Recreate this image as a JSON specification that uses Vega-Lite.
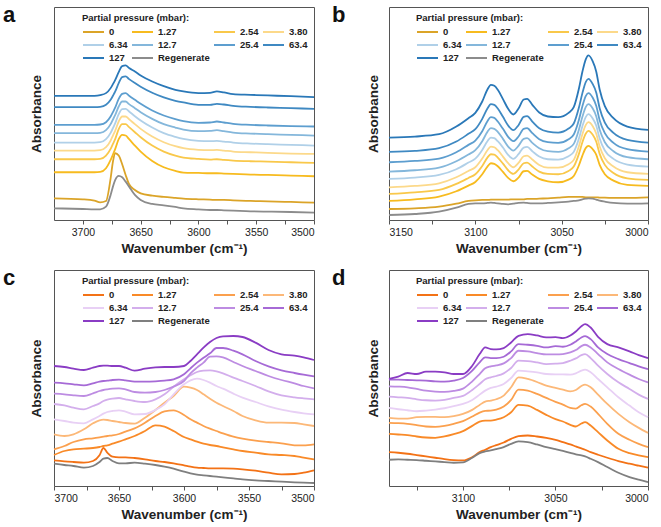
{
"$schema":"https://vega.github.io/schema/vega-lite/v6.json",
"padding":{"left":2,"top":3,"right":0,"bottom":2},
"config":{
 "font":"Liberation Sans",
 "view":{"stroke":"#555","strokeWidth":1},
 "axis":{"grid":false,"domain":false,"tickColor":"#555","tickSize":4,"labelFontSize":10.5,"labelColor":"#222","labelPadding":3,"titleFontSize":13.5,"titleFontWeight":"bold","titleColor":"#222","titlePadding":4},
 "axisY":{"labels":false,"ticks":false,"titlePadding":11},
 "legend":{"orient":"top-right","offset":6,"direction":"horizontal","columns":4,"gridAlign":"none","symbolType":"stroke","symbolSize":441,"symbolStrokeWidth":2,"clipHeight":11,"labelFontSize":9.5,"labelFontWeight":"bold","labelColor":"#222","labelOffset":4,"columnPadding":3,"rowPadding":2,"titleFontSize":9.5,"titleFontWeight":"bold","titleColor":"#222","titlePadding":4},
 "title":{"anchor":"start","frame":"bounds","fontSize":22,"fontWeight":"bold","color":"#111","offset":-20}
},
"datasets":{
"a":[
{"wn":3725,"0":65,"1_27":143,"2_54":182,"3_80":208,"6_34":232,"12_7":260,"25_4":285,"63_4":338,"127":372,"Regenerate":35},
{"wn":3700,"0":62,"1_27":143,"2_54":182,"3_80":208,"6_34":232,"12_7":260,"25_4":285,"63_4":338,"127":372,"Regenerate":33},
{"wn":3690,"0":58,"1_27":143,"2_54":182,"3_80":208,"6_34":232,"12_7":260,"25_4":285,"63_4":338,"127":372,"Regenerate":32},
{"wn":3685,"0":53,"1_27":144,"2_54":183,"3_80":209,"6_34":233,"12_7":261,"25_4":286,"63_4":339,"127":374,"Regenerate":32},
{"wn":3680,"0":57,"1_27":155,"2_54":193,"3_80":218,"6_34":242,"12_7":269,"25_4":293,"63_4":345,"127":380,"Regenerate":40},
{"wn":3676,"0":125,"1_27":180,"2_54":213,"3_80":238,"6_34":261,"12_7":287,"25_4":310,"63_4":360,"127":395,"Regenerate":75},
{"wn":3674,"0":175,"1_27":196,"2_54":228,"3_80":253,"6_34":275,"12_7":301,"25_4":323,"63_4":372,"127":407,"Regenerate":100},
{"wn":3672,"0":200,"1_27":213,"2_54":243,"3_80":268,"6_34":290,"12_7":315,"25_4":337,"63_4":385,"127":420,"Regenerate":120},
{"wn":3669,"0":193,"1_27":242,"2_54":272,"3_80":295,"6_34":317,"12_7":340,"25_4":363,"63_4":410,"127":443,"Regenerate":132},
{"wn":3666,"0":167,"1_27":255,"2_54":287,"3_80":310,"6_34":332,"12_7":355,"25_4":378,"63_4":428,"127":461,"Regenerate":128},
{"wn":3663,"0":135,"1_27":253,"2_54":287,"3_80":310,"6_34":333,"12_7":355,"25_4":380,"63_4":430,"127":463,"Regenerate":115},
{"wn":3660,"0":107,"1_27":242,"2_54":278,"3_80":302,"6_34":325,"12_7":347,"25_4":372,"63_4":422,"127":455,"Regenerate":100},
{"wn":3655,"0":90,"1_27":223,"2_54":263,"3_80":287,"6_34":311,"12_7":335,"25_4":360,"63_4":410,"127":445,"Regenerate":75},
{"wn":3650,"0":80,"1_27":205,"2_54":248,"3_80":273,"6_34":298,"12_7":323,"25_4":348,"63_4":399,"127":433,"Regenerate":60},
{"wn":3640,"0":73,"1_27":177,"2_54":223,"3_80":250,"6_34":277,"12_7":303,"25_4":328,"63_4":381,"127":415,"Regenerate":48},
{"wn":3630,"0":69,"1_27":158,"2_54":205,"3_80":233,"6_34":260,"12_7":287,"25_4":313,"63_4":367,"127":401,"Regenerate":44},
{"wn":3620,"0":66,"1_27":147,"2_54":193,"3_80":221,"6_34":249,"12_7":277,"25_4":302,"63_4":357,"127":390,"Regenerate":39},
{"wn":3613,"0":64,"1_27":142,"2_54":187,"3_80":215,"6_34":243,"12_7":271,"25_4":296,"63_4":352,"127":385,"Regenerate":35},
{"wn":3600,"0":62,"1_27":141,"2_54":183,"3_80":210,"6_34":237,"12_7":266,"25_4":291,"63_4":345,"127":380,"Regenerate":32},
{"wn":3590,"0":61,"1_27":140,"2_54":181,"3_80":209,"6_34":236,"12_7":267,"25_4":292,"63_4":345,"127":381,"Regenerate":30},
{"wn":3584,"0":60,"1_27":140,"2_54":182,"3_80":210,"6_34":237,"12_7":269,"25_4":295,"63_4":348,"127":385,"Regenerate":30},
{"wn":3578,"0":60,"1_27":139,"2_54":180,"3_80":208,"6_34":235,"12_7":266,"25_4":292,"63_4":346,"127":382,"Regenerate":29},
{"wn":3570,"0":59,"1_27":138,"2_54":178,"3_80":205,"6_34":232,"12_7":262,"25_4":288,"63_4":342,"127":377,"Regenerate":28},
{"wn":3555,"0":57,"1_27":136,"2_54":176,"3_80":203,"6_34":229,"12_7":259,"25_4":285,"63_4":339,"127":375,"Regenerate":26},
{"wn":3540,"0":56,"1_27":135,"2_54":175,"3_80":201,"6_34":227,"12_7":257,"25_4":283,"63_4":337,"127":373,"Regenerate":25},
{"wn":3520,"0":54,"1_27":133,"2_54":173,"3_80":199,"6_34":225,"12_7":255,"25_4":281,"63_4":335,"127":371,"Regenerate":24},
{"wn":3500,"0":52,"1_27":131,"2_54":171,"3_80":198,"6_34":223,"12_7":253,"25_4":280,"63_4":333,"127":368,"Regenerate":22}
],
"b":[
{"wn":3150,"0":33,"1_27":57,"2_54":78,"3_80":98,"6_34":123,"12_7":145,"25_4":173,"63_4":204,"127":247,"Regenerate":15},
{"wn":3135,"0":35,"1_27":62,"2_54":83,"3_80":102,"6_34":127,"12_7":149,"25_4":177,"63_4":207,"127":250,"Regenerate":18},
{"wn":3121,"0":40,"1_27":70,"2_54":90,"3_80":110,"6_34":135,"12_7":157,"25_4":184,"63_4":215,"127":257,"Regenerate":25},
{"wn":3111,"0":49,"1_27":86,"2_54":108,"3_80":128,"6_34":152,"12_7":176,"25_4":203,"63_4":235,"127":280,"Regenerate":37},
{"wn":3104,"0":57,"1_27":103,"2_54":126,"3_80":147,"6_34":172,"12_7":196,"25_4":225,"63_4":258,"127":305,"Regenerate":48},
{"wn":3100,"0":59,"1_27":114,"2_54":137,"3_80":158,"6_34":184,"12_7":209,"25_4":238,"63_4":272,"127":321,"Regenerate":50},
{"wn":3096,"0":60,"1_27":137,"2_54":162,"3_80":184,"6_34":210,"12_7":236,"25_4":266,"63_4":303,"127":355,"Regenerate":50},
{"wn":3093,"0":60,"1_27":160,"2_54":187,"3_80":209,"6_34":236,"12_7":264,"25_4":296,"63_4":334,"127":391,"Regenerate":51},
{"wn":3091,"0":61,"1_27":170,"2_54":197,"3_80":220,"6_34":247,"12_7":275,"25_4":308,"63_4":347,"127":405,"Regenerate":52},
{"wn":3089,"0":61,"1_27":168,"2_54":196,"3_80":218,"6_34":245,"12_7":273,"25_4":306,"63_4":345,"127":402,"Regenerate":51},
{"wn":3087,"0":61,"1_27":161,"2_54":187,"3_80":209,"6_34":236,"12_7":264,"25_4":295,"63_4":334,"127":390,"Regenerate":50},
{"wn":3084,"0":61,"1_27":144,"2_54":169,"3_80":190,"6_34":217,"12_7":243,"25_4":273,"63_4":309,"127":362,"Regenerate":48},
{"wn":3081,"0":61,"1_27":126,"2_54":149,"3_80":170,"6_34":195,"12_7":220,"25_4":249,"63_4":283,"127":333,"Regenerate":47},
{"wn":3078,"0":62,"1_27":116,"2_54":138,"3_80":158,"6_34":183,"12_7":208,"25_4":236,"63_4":269,"127":316,"Regenerate":49},
{"wn":3075,"0":62,"1_27":127,"2_54":151,"3_80":171,"6_34":197,"12_7":222,"25_4":250,"63_4":284,"127":334,"Regenerate":51},
{"wn":3072,"0":62,"1_27":146,"2_54":170,"3_80":191,"6_34":217,"12_7":243,"25_4":273,"63_4":309,"127":361,"Regenerate":52},
{"wn":3070,"0":63,"1_27":147,"2_54":172,"3_80":193,"6_34":219,"12_7":245,"25_4":275,"63_4":311,"127":363,"Regenerate":51},
{"wn":3067,"0":63,"1_27":136,"2_54":160,"3_80":181,"6_34":206,"12_7":231,"25_4":260,"63_4":295,"127":345,"Regenerate":50},
{"wn":3063,"0":64,"1_27":123,"2_54":145,"3_80":165,"6_34":190,"12_7":215,"25_4":242,"63_4":275,"127":322,"Regenerate":50},
{"wn":3058,"0":65,"1_27":116,"2_54":138,"3_80":157,"6_34":182,"12_7":206,"25_4":233,"63_4":265,"127":310,"Regenerate":51},
{"wn":3052,"0":67,"1_27":113,"2_54":137,"3_80":157,"6_34":181,"12_7":204,"25_4":231,"63_4":262,"127":308,"Regenerate":53},
{"wn":3046,"0":69,"1_27":121,"2_54":147,"3_80":167,"6_34":191,"12_7":215,"25_4":242,"63_4":274,"127":321,"Regenerate":55},
{"wn":3043,"0":69,"1_27":132,"2_54":160,"3_80":180,"6_34":204,"12_7":228,"25_4":256,"63_4":289,"127":338,"Regenerate":57},
{"wn":3040,"0":69,"1_27":164,"2_54":198,"3_80":221,"6_34":244,"12_7":271,"25_4":300,"63_4":337,"127":394,"Regenerate":59},
{"wn":3038,"0":69,"1_27":193,"2_54":233,"3_80":257,"6_34":281,"12_7":309,"25_4":341,"63_4":380,"127":444,"Regenerate":62},
{"wn":3036,"0":68,"1_27":216,"2_54":259,"3_80":285,"6_34":309,"12_7":339,"25_4":372,"63_4":414,"127":482,"Regenerate":64},
{"wn":3034.5,"0":68,"1_27":222,"2_54":267,"3_80":293,"6_34":317,"12_7":347,"25_4":380,"63_4":423,"127":493,"Regenerate":65},
{"wn":3032,"0":68,"1_27":212,"2_54":255,"3_80":281,"6_34":304,"12_7":334,"25_4":366,"63_4":407,"127":475,"Regenerate":64},
{"wn":3030,"0":68,"1_27":196,"2_54":235,"3_80":259,"6_34":283,"12_7":311,"25_4":342,"63_4":382,"127":445,"Regenerate":61},
{"wn":3028,"0":67,"1_27":165,"2_54":198,"3_80":220,"6_34":244,"12_7":270,"25_4":299,"63_4":335,"127":391,"Regenerate":58},
{"wn":3025,"0":67,"1_27":137,"2_54":165,"3_80":185,"6_34":208,"12_7":233,"25_4":260,"63_4":292,"127":341,"Regenerate":55},
{"wn":3020,"0":66,"1_27":118,"2_54":141,"3_80":160,"6_34":183,"12_7":206,"25_4":231,"63_4":261,"127":305,"Regenerate":51},
{"wn":3012,"0":66,"1_27":105,"2_54":125,"3_80":143,"6_34":166,"12_7":188,"25_4":212,"63_4":240,"127":280,"Regenerate":49},
{"wn":3000,"0":68,"1_27":102,"2_54":120,"3_80":138,"6_34":160,"12_7":182,"25_4":205,"63_4":232,"127":270,"Regenerate":50}
],
"c":[
{"wn":3700,"0":77,"1_27":93,"2_54":110,"3_80":155,"6_34":200,"12_7":246,"25_4":277,"63_4":310,"127":360,"Regenerate":67},
{"wn":3692,"0":74,"1_27":105,"2_54":120,"3_80":150,"6_34":195,"12_7":242,"25_4":275,"63_4":308,"127":357,"Regenerate":63},
{"wn":3685,"0":72,"1_27":110,"2_54":132,"3_80":155,"6_34":190,"12_7":235,"25_4":272,"63_4":305,"127":352,"Regenerate":60},
{"wn":3677,"0":70,"1_27":112,"2_54":140,"3_80":170,"6_34":188,"12_7":230,"25_4":270,"63_4":302,"127":348,"Regenerate":55},
{"wn":3670,"0":75,"1_27":114,"2_54":143,"3_80":188,"6_34":200,"12_7":240,"25_4":278,"63_4":308,"127":355,"Regenerate":60},
{"wn":3665,"0":92,"1_27":117,"2_54":146,"3_80":197,"6_34":210,"12_7":248,"25_4":285,"63_4":313,"127":360,"Regenerate":72},
{"wn":3662,"0":114,"1_27":120,"2_54":148,"3_80":199,"6_34":217,"12_7":255,"25_4":288,"63_4":315,"127":361,"Regenerate":82},
{"wn":3659,"0":100,"1_27":122,"2_54":150,"3_80":198,"6_34":222,"12_7":259,"25_4":290,"63_4":316,"127":361,"Regenerate":84},
{"wn":3655,"0":88,"1_27":127,"2_54":152,"3_80":195,"6_34":225,"12_7":262,"25_4":292,"63_4":318,"127":360,"Regenerate":75},
{"wn":3650,"0":86,"1_27":133,"2_54":156,"3_80":192,"6_34":227,"12_7":264,"25_4":293,"63_4":319,"127":360,"Regenerate":68},
{"wn":3645,"0":86,"1_27":140,"2_54":163,"3_80":189,"6_34":223,"12_7":260,"25_4":290,"63_4":317,"127":355,"Regenerate":68},
{"wn":3638,"0":84,"1_27":150,"2_54":173,"3_80":187,"6_34":215,"12_7":255,"25_4":282,"63_4":313,"127":346,"Regenerate":70},
{"wn":3630,"0":80,"1_27":165,"2_54":190,"3_80":205,"6_34":216,"12_7":252,"25_4":280,"63_4":313,"127":352,"Regenerate":67},
{"wn":3622,"0":75,"1_27":182,"2_54":210,"3_80":228,"6_34":228,"12_7":260,"25_4":282,"63_4":314,"127":356,"Regenerate":63},
{"wn":3615,"0":72,"1_27":178,"2_54":224,"3_80":250,"6_34":245,"12_7":275,"25_4":288,"63_4":316,"127":357,"Regenerate":58},
{"wn":3608,"0":68,"1_27":165,"2_54":227,"3_80":270,"6_34":275,"12_7":298,"25_4":298,"63_4":320,"127":357,"Regenerate":52},
{"wn":3600,"0":62,"1_27":147,"2_54":213,"3_80":298,"6_34":305,"12_7":320,"25_4":315,"63_4":335,"127":360,"Regenerate":43},
{"wn":3595,"0":58,"1_27":140,"2_54":200,"3_80":295,"6_34":317,"12_7":332,"25_4":338,"63_4":353,"127":375,"Regenerate":38},
{"wn":3590,"0":55,"1_27":133,"2_54":190,"3_80":288,"6_34":322,"12_7":342,"25_4":355,"63_4":370,"127":395,"Regenerate":34},
{"wn":3585,"0":54,"1_27":127,"2_54":180,"3_80":275,"6_34":318,"12_7":346,"25_4":370,"63_4":385,"127":415,"Regenerate":32},
{"wn":3580,"0":53,"1_27":123,"2_54":172,"3_80":262,"6_34":310,"12_7":347,"25_4":388,"63_4":398,"127":432,"Regenerate":30},
{"wn":3575,"0":53,"1_27":120,"2_54":165,"3_80":250,"6_34":300,"12_7":344,"25_4":389,"63_4":414,"127":444,"Regenerate":28},
{"wn":3570,"0":53,"1_27":116,"2_54":158,"3_80":240,"6_34":292,"12_7":338,"25_4":386,"63_4":414,"127":449,"Regenerate":26},
{"wn":3562,"0":52,"1_27":110,"2_54":148,"3_80":225,"6_34":277,"12_7":325,"25_4":372,"63_4":406,"127":450,"Regenerate":23},
{"wn":3555,"0":50,"1_27":105,"2_54":142,"3_80":210,"6_34":265,"12_7":315,"25_4":360,"63_4":395,"127":447,"Regenerate":20},
{"wn":3545,"0":46,"1_27":100,"2_54":136,"3_80":197,"6_34":252,"12_7":300,"25_4":345,"63_4":375,"127":430,"Regenerate":17},
{"wn":3535,"0":40,"1_27":95,"2_54":132,"3_80":190,"6_34":239,"12_7":284,"25_4":330,"63_4":359,"127":408,"Regenerate":15},
{"wn":3525,"0":35,"1_27":93,"2_54":128,"3_80":190,"6_34":229,"12_7":272,"25_4":318,"63_4":347,"127":395,"Regenerate":13},
{"wn":3515,"0":36,"1_27":90,"2_54":122,"3_80":189,"6_34":222,"12_7":266,"25_4":308,"63_4":339,"127":391,"Regenerate":11},
{"wn":3508,"0":40,"1_27":85,"2_54":122,"3_80":185,"6_34":218,"12_7":263,"25_4":300,"63_4":334,"127":386,"Regenerate":10},
{"wn":3500,"0":47,"1_27":80,"2_54":125,"3_80":180,"6_34":215,"12_7":260,"25_4":293,"63_4":329,"127":378,"Regenerate":9}
],
"d":[
{"wn":3140,"0":102,"1_27":157,"2_54":190,"3_80":205,"6_34":235,"12_7":269,"25_4":300,"63_4":320,"127":322,"Regenerate":79},
{"wn":3135,"0":100,"1_27":155,"2_54":189,"3_80":203,"6_34":231,"12_7":267,"25_4":299,"63_4":320,"127":329,"Regenerate":80},
{"wn":3130,"0":97,"1_27":153,"2_54":187,"3_80":203,"6_34":228,"12_7":265,"25_4":297,"63_4":319,"127":340,"Regenerate":79},
{"wn":3125,"0":93,"1_27":149,"2_54":183,"3_80":207,"6_34":225,"12_7":261,"25_4":292,"63_4":318,"127":337,"Regenerate":78},
{"wn":3120,"0":89,"1_27":146,"2_54":179,"3_80":208,"6_34":227,"12_7":258,"25_4":287,"63_4":317,"127":344,"Regenerate":76},
{"wn":3115,"0":85,"1_27":145,"2_54":178,"3_80":208,"6_34":230,"12_7":257,"25_4":284,"63_4":315,"127":344,"Regenerate":74},
{"wn":3110,"0":81,"1_27":149,"2_54":181,"3_80":207,"6_34":234,"12_7":259,"25_4":283,"63_4":314,"127":342,"Regenerate":72},
{"wn":3105,"0":78,"1_27":156,"2_54":187,"3_80":210,"6_34":240,"12_7":265,"25_4":286,"63_4":317,"127":337,"Regenerate":70},
{"wn":3100,"0":77,"1_27":165,"2_54":195,"3_80":217,"6_34":247,"12_7":271,"25_4":293,"63_4":325,"127":337,"Regenerate":71},
{"wn":3095,"0":87,"1_27":181,"2_54":209,"3_80":229,"6_34":259,"12_7":289,"25_4":315,"63_4":347,"127":362,"Regenerate":85},
{"wn":3091,"0":102,"1_27":194,"2_54":221,"3_80":244,"6_34":275,"12_7":307,"25_4":337,"63_4":372,"127":397,"Regenerate":99},
{"wn":3088,"0":109,"1_27":197,"2_54":226,"3_80":254,"6_34":287,"12_7":321,"25_4":354,"63_4":387,"127":417,"Regenerate":104},
{"wn":3085,"0":117,"1_27":197,"2_54":227,"3_80":257,"6_34":295,"12_7":327,"25_4":360,"63_4":385,"127":412,"Regenerate":107},
{"wn":3082,"0":123,"1_27":200,"2_54":230,"3_80":261,"6_34":299,"12_7":331,"25_4":363,"63_4":385,"127":411,"Regenerate":111},
{"wn":3078,"0":131,"1_27":207,"2_54":239,"3_80":272,"6_34":307,"12_7":339,"25_4":369,"63_4":389,"127":415,"Regenerate":117},
{"wn":3074,"0":142,"1_27":222,"2_54":259,"3_80":297,"6_34":325,"12_7":355,"25_4":385,"63_4":405,"127":432,"Regenerate":127},
{"wn":3070,"0":150,"1_27":244,"2_54":290,"3_80":327,"6_34":347,"12_7":377,"25_4":407,"63_4":427,"127":452,"Regenerate":134},
{"wn":3065,"0":152,"1_27":242,"2_54":287,"3_80":322,"6_34":345,"12_7":376,"25_4":405,"63_4":425,"127":457,"Regenerate":132},
{"wn":3060,"0":149,"1_27":229,"2_54":277,"3_80":313,"6_34":342,"12_7":372,"25_4":400,"63_4":422,"127":453,"Regenerate":125},
{"wn":3055,"0":145,"1_27":214,"2_54":265,"3_80":302,"6_34":337,"12_7":367,"25_4":396,"63_4":417,"127":447,"Regenerate":117},
{"wn":3050,"0":139,"1_27":201,"2_54":253,"3_80":295,"6_34":336,"12_7":368,"25_4":396,"63_4":421,"127":448,"Regenerate":111},
{"wn":3046,"0":132,"1_27":194,"2_54":245,"3_80":290,"6_34":336,"12_7":370,"25_4":397,"63_4":419,"127":445,"Regenerate":106},
{"wn":3042,"0":125,"1_27":184,"2_54":235,"3_80":285,"6_34":335,"12_7":377,"25_4":402,"63_4":425,"127":453,"Regenerate":100},
{"wn":3039,"0":119,"1_27":179,"2_54":233,"3_80":289,"6_34":339,"12_7":384,"25_4":409,"63_4":435,"127":465,"Regenerate":95},
{"wn":3036,"0":113,"1_27":188,"2_54":243,"3_80":301,"6_34":347,"12_7":394,"25_4":421,"63_4":447,"127":481,"Regenerate":92},
{"wn":3034,"0":109,"1_27":192,"2_54":247,"3_80":305,"6_34":350,"12_7":397,"25_4":425,"63_4":451,"127":487,"Regenerate":89},
{"wn":3031,"0":102,"1_27":182,"2_54":239,"3_80":297,"6_34":342,"12_7":385,"25_4":417,"63_4":442,"127":477,"Regenerate":82},
{"wn":3027,"0":94,"1_27":162,"2_54":217,"3_80":275,"6_34":322,"12_7":362,"25_4":397,"63_4":417,"127":449,"Regenerate":72},
{"wn":3022,"0":85,"1_27":137,"2_54":187,"3_80":247,"6_34":297,"12_7":337,"25_4":372,"63_4":397,"127":427,"Regenerate":57},
{"wn":3016,"0":75,"1_27":112,"2_54":157,"3_80":217,"6_34":267,"12_7":312,"25_4":352,"63_4":382,"127":417,"Regenerate":40},
{"wn":3010,"0":67,"1_27":99,"2_54":139,"3_80":192,"6_34":242,"12_7":292,"25_4":335,"63_4":370,"127":405,"Regenerate":27},
{"wn":3005,"0":61,"1_27":92,"2_54":127,"3_80":175,"6_34":222,"12_7":275,"25_4":322,"63_4":360,"127":394,"Regenerate":19},
{"wn":3000,"0":55,"1_27":87,"2_54":117,"3_80":160,"6_34":207,"12_7":262,"25_4":312,"63_4":352,"127":385,"Regenerate":12}
]
},
"resolve":{"scale":{"color":"independent"},"legend":{"color":"independent"}},
"spacing":10,
"vconcat":[
{"hconcat":[
 {"title":{"text":"a","dx":-26},"width":260,"height":213,"data":{"name":"a"},
  "transform":[{"fold":["0","1_27","2_54","3_80","6_34","12_7","25_4","63_4","127","Regenerate"],"as":["p","A"]}],
  "mark":{"type":"line","strokeWidth":1.8,"interpolate":"monotone"},
  "encoding":{
   "x":{"field":"wn","type":"quantitative","scale":{"domain":[3500,3725],"reverse":true,"nice":false,"zero":false},"axis":{"values":[3700,3675,3650,3625,3600,3575,3550,3525,3500],"format":"d","labelExpr":"datum.value % 50 == 0 ? datum.label : ''","title":"Wavenumber (cm⁻¹)"}},
   "y":{"field":"A","type":"quantitative","scale":{"domain":[0,638],"nice":false},"axis":{"title":"Absorbance"}},
   "color":{"field":"p","type":"nominal","scale":{"domain":["0","1_27","2_54","3_80","6_34","12_7","25_4","63_4","127","Regenerate"],"range":["#DBA428","#F7BB1F","#F9C84A","#FCD98A","#B0D0E8","#84B7DB","#5D9ECF","#3F89C2","#2A78B8","#8C8C8C"]},"legend":{"title":"Partial pressure (mbar):","labelExpr":"datum.label == '0' ? '0     ' : datum.label == '127' ? '127 ' : replace(datum.label, '_', '.')"}}
  }},
 {"title":{"text":"b","dx":-34},"width":259,"height":213,"data":{"name":"b"},
  "transform":[{"fold":["0","1_27","2_54","3_80","6_34","12_7","25_4","63_4","127","Regenerate"],"as":["p","A"]}],
  "mark":{"type":"line","strokeWidth":1.8,"interpolate":"monotone"},
  "encoding":{
   "x":{"field":"wn","type":"quantitative","scale":{"domain":[3000,3150],"reverse":true,"nice":false,"zero":false},"axis":{"values":[3150,3125,3100,3075,3050,3025,3000],"format":"d","labelExpr":"datum.value % 50 == 0 ? datum.label : ''","title":"Wavenumber (cm⁻¹)"}},
   "y":{"field":"A","type":"quantitative","scale":{"domain":[0,638],"nice":false},"axis":{"title":"Absorbance","titlePadding":9}},
   "color":{"field":"p","type":"nominal","scale":{"domain":["0","1_27","2_54","3_80","6_34","12_7","25_4","63_4","127","Regenerate"],"range":["#DBA428","#F7BB1F","#F9C84A","#FCD98A","#B0D0E8","#84B7DB","#5D9ECF","#3F89C2","#2A78B8","#8C8C8C"]},"legend":{"title":"Partial pressure (mbar):","labelExpr":"datum.label == '0' ? '0     ' : datum.label == '127' ? '127 ' : replace(datum.label, '_', '.')"}}
  }}
 ],"spacing":12,"resolve":{"scale":{"color":"independent"},"legend":{"color":"independent"}}},
{"hconcat":[
 {"title":{"text":"c","dx":-26},"width":260,"height":216,"data":{"name":"c"},
  "transform":[{"fold":["0","1_27","2_54","3_80","6_34","12_7","25_4","63_4","127","Regenerate"],"as":["p","A"]}],
  "mark":{"type":"line","strokeWidth":1.8,"interpolate":"monotone"},
  "encoding":{
   "x":{"field":"wn","type":"quantitative","scale":{"domain":[3500,3700],"reverse":true,"nice":false,"zero":false},"axis":{"values":[3700,3675,3650,3625,3600,3575,3550,3525,3500],"format":"d","labelExpr":"datum.value % 50 == 0 ? datum.label : ''","title":"Wavenumber (cm⁻¹)"}},
   "y":{"field":"A","type":"quantitative","scale":{"domain":[0,648],"nice":false},"axis":{"title":"Absorbance"}},
   "color":{"field":"p","type":"nominal","scale":{"domain":["0","1_27","2_54","3_80","6_34","12_7","25_4","63_4","127","Regenerate"],"range":["#F37216","#F98A28","#FBA04E","#FCB878","#E8D0F5","#D3AEEC","#BD8CE2","#A66AD6","#8A3CC4","#7F7F7F"]},"legend":{"title":"Partial pressure (mbar):","labelExpr":"datum.label == '0' ? '0     ' : datum.label == '127' ? '127 ' : replace(datum.label, '_', '.')"}}
  }},
 {"title":{"text":"d","dx":-34},"width":259,"height":216,"data":{"name":"d"},
  "transform":[{"fold":["0","1_27","2_54","3_80","6_34","12_7","25_4","63_4","127","Regenerate"],"as":["p","A"]}],
  "mark":{"type":"line","strokeWidth":1.8,"interpolate":"monotone"},
  "encoding":{
   "x":{"field":"wn","type":"quantitative","scale":{"domain":[3000,3140],"reverse":true,"nice":false,"zero":false},"axis":{"values":[3125,3100,3075,3050,3025,3000],"format":"d","labelExpr":"datum.value % 50 == 0 ? datum.label : ''","title":"Wavenumber (cm⁻¹)"}},
   "y":{"field":"A","type":"quantitative","scale":{"domain":[0,650],"nice":false},"axis":{"title":"Absorbance","titlePadding":9}},
   "color":{"field":"p","type":"nominal","scale":{"domain":["0","1_27","2_54","3_80","6_34","12_7","25_4","63_4","127","Regenerate"],"range":["#F37216","#F98A28","#FBA04E","#FCB878","#E8D0F5","#D3AEEC","#BD8CE2","#A66AD6","#8A3CC4","#7F7F7F"]},"legend":{"title":"Partial pressure (mbar):","labelExpr":"datum.label == '0' ? '0     ' : datum.label == '127' ? '127 ' : replace(datum.label, '_', '.')"}}
  }}
 ],"spacing":12,"resolve":{"scale":{"color":"independent"},"legend":{"color":"independent"}}}
]
}
